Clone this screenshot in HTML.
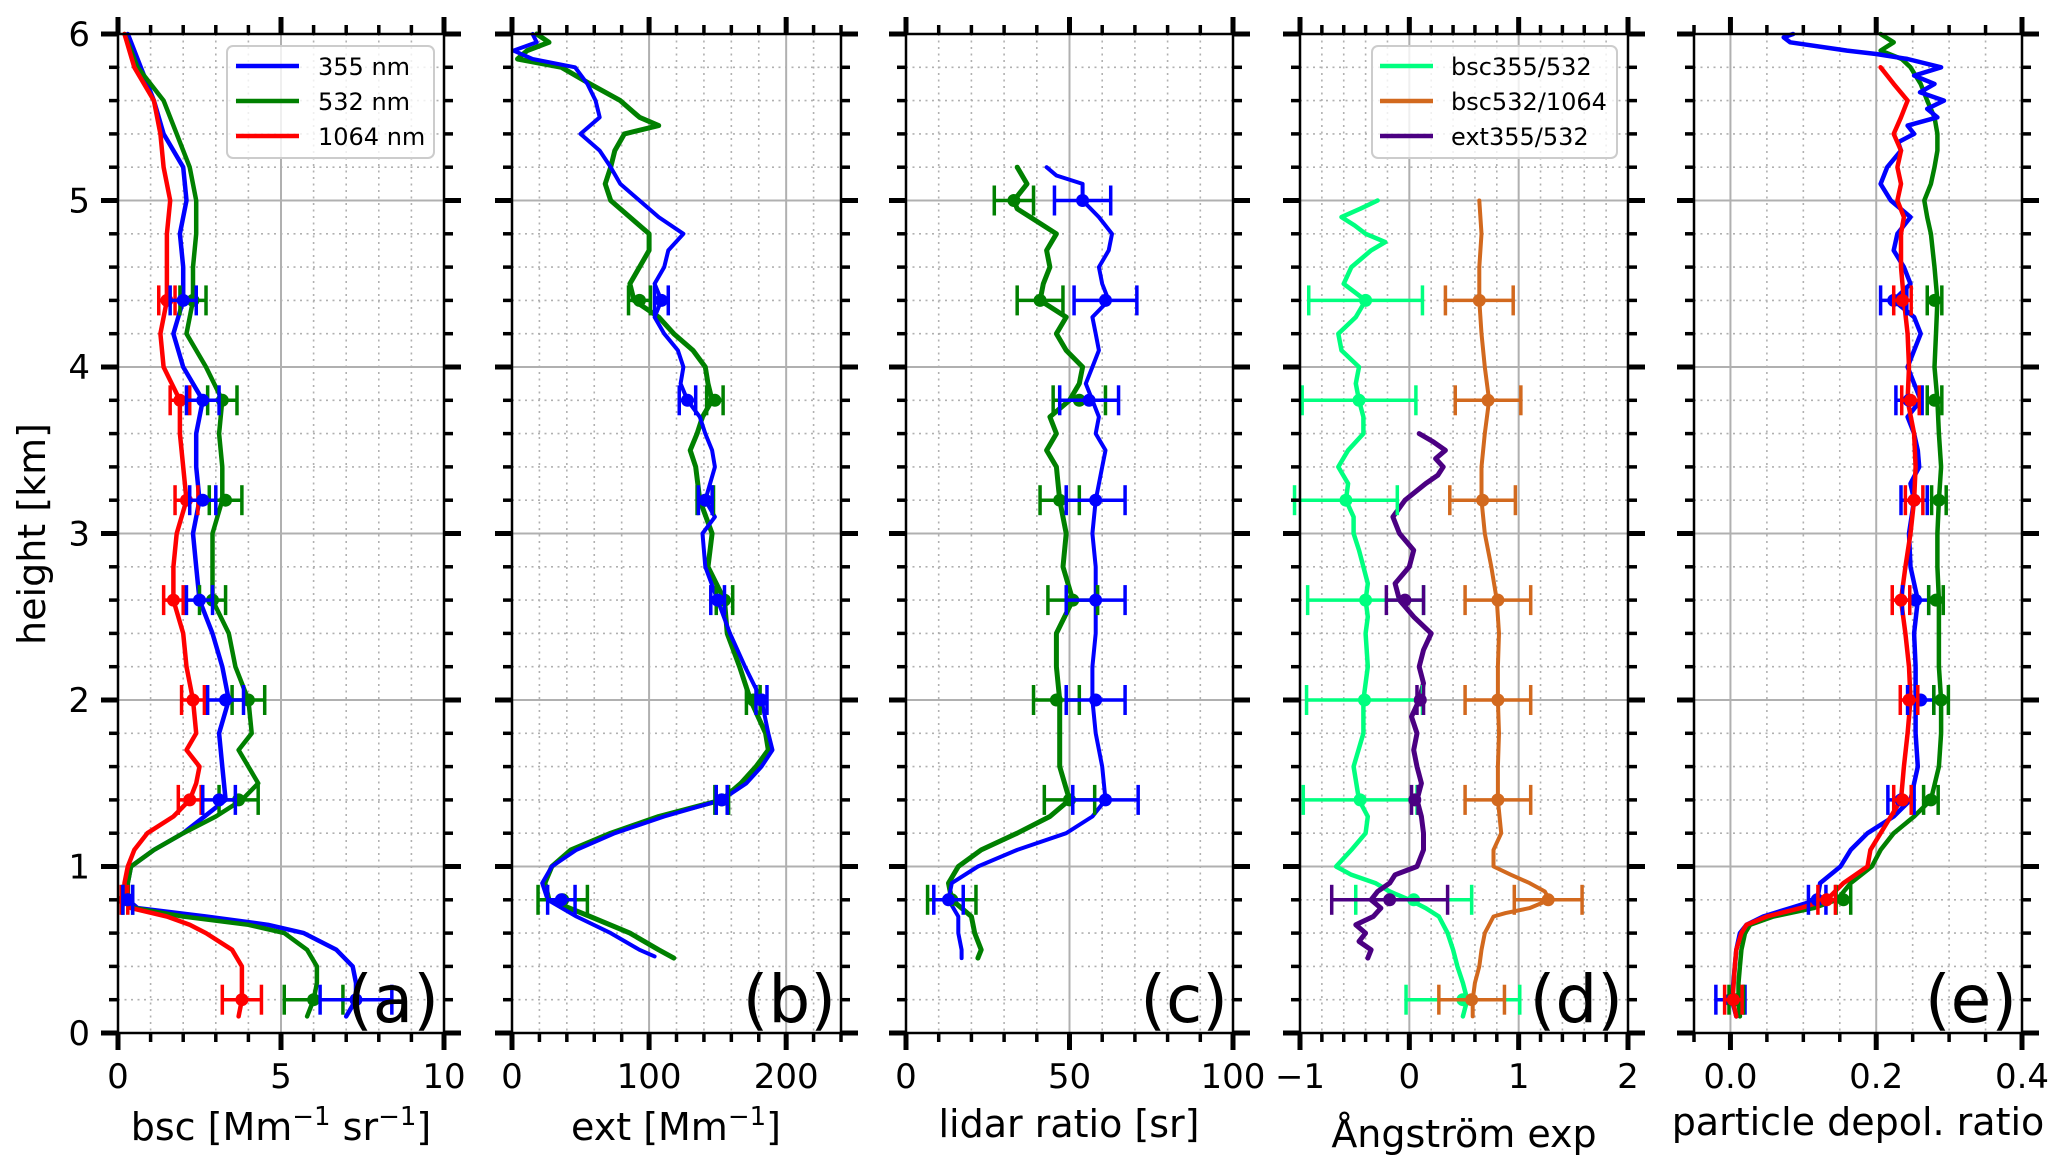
<!DOCTYPE html>
<html><head><meta charset="utf-8"><title>Lidar profiles</title>
<style>
html,body{margin:0;padding:0;background:#fff;}
svg{display:block;font-family:"DejaVu Sans","Liberation Sans",sans-serif;}
</style></head>
<body>
<svg id="chart" xmlns="http://www.w3.org/2000/svg" width="2067" height="1172" viewBox="0 0 2067 1172"></svg>
<script>
// ---------- DATA ----------
// panel (a) backscatter [Mm-1 sr-1]
const aBlueH = [6,5.8,5.6,5.4,5.2,5.0,4.8,4.6,4.4,4.2,4.0,3.8,3.6,3.4,3.2,3.0,2.8,2.6,2.4,2.2,2.0,1.8,1.6,1.4,1.2,1.1,1.0,0.9,0.8,0.75,0.7,0.65,0.6,0.5,0.4,0.3,0.2,0.1];
const aBlueV = [0.3,0.7,1.1,1.4,2.0,2.1,1.9,2.0,2.0,1.7,2.0,2.6,2.4,2.4,2.5,2.3,2.4,2.5,2.9,3.2,3.4,3.1,3.2,3.3,2.0,1.1,0.4,0.3,0.3,0.6,2.7,4.6,5.7,6.7,7.2,7.3,7.3,7.0];
const aGRH = [6,5.8,5.6,5.4,5.2,5.0,4.8,4.6,4.4,4.2,4.0,3.8,3.6,3.4,3.2,3.0,2.8,2.6,2.4,2.2,2.0,1.8,1.7,1.6,1.5,1.4,1.3,1.2,1.1,1.0,0.9,0.8,0.75,0.7,0.65,0.6,0.5,0.4,0.3,0.2,0.1];
const aGreenV = [0.2,0.6,1.4,1.8,2.2,2.4,2.4,2.3,2.3,2.1,2.7,3.2,3.1,3.2,3.2,2.9,2.9,2.9,3.4,3.6,4.0,4.1,3.7,4.0,4.3,3.8,3.0,2.0,1.1,0.4,0.3,0.3,0.5,2.0,4.0,5.1,5.8,6.1,6.1,6.0,5.8];
const aRedV = [0.2,0.5,1.1,1.3,1.4,1.6,1.5,1.5,1.5,1.3,1.4,1.9,1.9,2.0,2.1,1.8,1.7,1.7,2.0,2.1,2.3,2.4,2.1,2.5,2.4,2.2,1.7,0.9,0.5,0.3,0.2,0.2,0.4,1.5,2.2,2.7,3.5,3.8,3.8,3.8,3.7];
const errH = [4.4,3.8,3.2,2.6,2.0,1.4,0.8,0.2];
const aBlueErrC = [2.0,2.6,2.6,2.5,3.3,3.1,0.3,7.3];
const aBlueErrE = [0.4,0.5,0.4,0.4,0.55,0.5,0.15,1.1];
const aGreenErrC = [2.3,3.2,3.3,2.9,4.0,3.7,0.3,6.0];
const aGreenErrE = [0.4,0.45,0.5,0.4,0.5,0.6,0.15,0.9];
const aRedErrC = [1.5,1.9,2.1,1.7,2.3,2.2,0.2,3.8];
const aRedErrE = [0.25,0.3,0.35,0.3,0.35,0.35,0.1,0.6];

// panel (b) extinction [Mm-1]
const bBlueH = [6,5.95,5.9,5.85,5.8,5.7,5.6,5.5,5.4,5.3,5.2,5.1,5.0,4.9,4.8,4.7,4.6,4.5,4.4,4.3,4.2,4.1,4.0,3.9,3.8,3.7,3.6,3.5,3.4,3.2,3.1,3.0,2.8,2.6,2.4,2.2,2.0,1.8,1.7,1.6,1.5,1.4,1.3,1.2,1.1,1.0,0.9,0.8,0.7,0.6,0.5,0.46];
const bBlueV = [15,18,1,15,46,55,61,64,50,64,72,79,93,107,125,114,111,104,109,104,111,121,125,123,128,137,141,146,148,141,148,139,141,150,159,170,182,187,190,182,171,153,111,75,47,29,22,26,47,72,93,104];
const bGreenH = [6,5.95,5.9,5.85,5.8,5.7,5.6,5.5,5.45,5.4,5.3,5.2,5.1,5.0,4.9,4.8,4.7,4.6,4.5,4.4,4.3,4.2,4.1,4.0,3.9,3.8,3.7,3.6,3.5,3.4,3.2,3.0,2.8,2.6,2.4,2.2,2.0,1.8,1.7,1.6,1.5,1.4,1.3,1.2,1.1,1.0,0.9,0.8,0.7,0.6,0.5,0.45];
const bGreenV = [18,27,11,4,36,57,79,93,107,82,75,72,68,72,86,100,100,93,86,89,107,118,132,141,143,146,139,135,130,134,137,146,143,155,157,166,174,185,187,178,167,153,107,72,43,29,24,27,57,86,107,118];
const bErrH = [4.4,3.8,3.2,2.6,2.0,1.4,0.8];
const bBlueErrC = [109,128,141,150,182,153,36];
const bBlueErrE = [5,6,5,5,4,4,10];
const bGreenErrC = [93,148,141,155,176,153,37];
const bGreenErrE = [8,6,6,6,5,5,18];

// panel (c) lidar ratio [sr]
const cBlueH = [5.2,5.15,5.1,5.0,4.9,4.8,4.7,4.6,4.5,4.4,4.3,4.2,4.1,4.0,3.9,3.8,3.7,3.6,3.5,3.4,3.2,3.0,2.8,2.6,2.4,2.2,2.0,1.8,1.6,1.4,1.3,1.2,1.1,1.0,0.9,0.8,0.7,0.6,0.5,0.45];
const cBlueV = [43,46,54,54,59,63,62,59,60,62,57,58,59,57,55,57,59,58,61,60,58,57,58,58,58,57,57,58,60,61,57,49,34,22,14,13,16,16,17,17];
const cGreenH = [5.2,5.1,5.0,4.95,4.9,4.8,4.7,4.6,4.5,4.4,4.3,4.2,4.1,4.0,3.9,3.8,3.7,3.6,3.5,3.4,3.2,3.0,2.8,2.6,2.4,2.2,2.0,1.8,1.6,1.4,1.3,1.2,1.1,1.0,0.9,0.8,0.7,0.6,0.5,0.45];
const cGreenV = [34,37,33,34,38,46,43,44,42,41,49,46,49,54,53,50,44,46,43,46,47,49,48,51,46,46,47,47,47,50,44,34,23,16,13,14,20,21,23,22];
const cErrH = [5.0,4.4,3.8,3.2,2.6,2.0,1.4,0.8];
const cBlueErrC = [54,61,56,58,58,58,61,13];
const cBlueErrE = [8.6,9.6,9,9,9,9,10,4.5];
const cGreenErrC = [33,41,53,47,51,46,50,14];
const cGreenErrE = [6,7,8,6,7.6,7,7.7,7.4];

// panel (d) Angstrom exponents
const dBscUvH = [5.0,4.95,4.9,4.85,4.8,4.75,4.7,4.6,4.5,4.4,4.3,4.2,4.1,4.0,3.9,3.8,3.7,3.6,3.5,3.4,3.3,3.2,3.1,3.0,2.9,2.8,2.7,2.6,2.5,2.4,2.2,2.0,1.8,1.6,1.4,1.3,1.2,1.1,1.0,0.95,0.9,0.85,0.8,0.75,0.7,0.6,0.5,0.4,0.3,0.2,0.1];
const dBscUvV = [-0.29,-0.45,-0.62,-0.5,-0.40,-0.22,-0.35,-0.53,-0.60,-0.40,-0.49,-0.65,-0.62,-0.46,-0.49,-0.46,-0.42,-0.42,-0.56,-0.65,-0.56,-0.58,-0.51,-0.51,-0.46,-0.42,-0.38,-0.40,-0.38,-0.40,-0.38,-0.42,-0.42,-0.51,-0.46,-0.38,-0.40,-0.53,-0.67,-0.53,-0.31,-0.18,0.0,0.15,0.27,0.35,0.40,0.44,0.49,0.53,0.49];
const dBscIrH = [5.0,4.8,4.6,4.4,4.2,4.0,3.8,3.6,3.4,3.2,3.0,2.8,2.6,2.4,2.2,2.0,1.8,1.6,1.4,1.2,1.1,1.0,0.95,0.9,0.85,0.8,0.75,0.72,0.7,0.6,0.5,0.4,0.3,0.2,0.1];
const dBscIrV = [0.64,0.66,0.64,0.64,0.66,0.69,0.73,0.69,0.66,0.66,0.69,0.75,0.80,0.82,0.81,0.81,0.82,0.81,0.81,0.84,0.77,0.77,0.93,1.1,1.24,1.28,1.1,0.88,0.77,0.69,0.66,0.64,0.60,0.58,0.58];
const dExtH = [3.6,3.55,3.5,3.45,3.4,3.35,3.3,3.2,3.1,3.0,2.9,2.8,2.7,2.6,2.5,2.4,2.3,2.2,2.1,2.0,1.9,1.8,1.7,1.6,1.5,1.4,1.3,1.2,1.1,1.0,0.95,0.9,0.85,0.8,0.75,0.7,0.65,0.6,0.55,0.5,0.45];
const dExtV = [0.09,0.22,0.33,0.24,0.31,0.26,0.15,-0.04,-0.15,-0.09,0.04,0,-0.13,-0.09,0.04,0.2,0.13,0.09,0.13,0.09,0.02,0.07,0.04,0.07,0.11,0.07,0.11,0.13,0.13,0.07,-0.13,-0.18,-0.29,-0.35,-0.26,-0.33,-0.49,-0.40,-0.46,-0.35,-0.38];
const dBscUvErrC = [-0.40,-0.46,-0.58,-0.40,-0.41,-0.45,0.04,0.49];
const dBscUvErrE = [0.52,0.52,0.47,0.53,0.53,0.52,0.53,0.52];
const dBscIrErrC = [0.64,0.72,0.67,0.81,0.81,0.81,1.27,0.57];
const dBscIrErrE = [0.31,0.3,0.3,0.3,0.3,0.3,0.31,0.3];
const dExtErrH = [2.6,2.0,1.4,0.8];
const dExtErrC = [-0.04,0.1,0.05,-0.18];
const dExtErrE = [0.17,0.03,0.03,0.53];

// panel (e) particle depolarization ratio
const eBlueH = [6.0,5.98,5.95,5.9,5.88,5.85,5.8,5.75,5.7,5.65,5.6,5.55,5.5,5.45,5.4,5.35,5.3,5.2,5.1,5.0,4.9,4.8,4.7,4.6,4.5,4.4,4.3,4.2,4.1,4.0,3.8,3.7,3.6,3.5,3.4,3.3,3.2,3.0,2.8,2.6,2.4,2.2,2.0,1.8,1.6,1.4,1.3,1.2,1.1,1.0,0.9,0.8,0.75,0.7,0.65,0.6,0.5,0.4,0.3,0.2,0.1];
const eBlueV = [0.086,0.073,0.082,0.16,0.20,0.243,0.289,0.252,0.28,0.26,0.293,0.27,0.284,0.243,0.252,0.23,0.234,0.215,0.206,0.22,0.247,0.229,0.224,0.238,0.247,0.224,0.252,0.261,0.252,0.243,0.261,0.243,0.252,0.257,0.259,0.247,0.252,0.245,0.247,0.257,0.252,0.254,0.254,0.254,0.257,0.247,0.224,0.188,0.165,0.151,0.123,0.119,0.082,0.045,0.022,0.013,0.008,0.006,0.004,0.002,0.008];
const eGreenH = [6.0,5.95,5.9,5.85,5.8,5.7,5.6,5.5,5.4,5.3,5.2,5.1,5.0,4.9,4.8,4.6,4.4,4.2,4.0,3.8,3.6,3.4,3.2,3.0,2.8,2.6,2.4,2.2,2.0,1.8,1.6,1.4,1.3,1.2,1.1,1.0,0.9,0.8,0.75,0.7,0.65,0.6,0.5,0.4,0.3,0.2,0.1];
const eGreenV = [0.206,0.224,0.206,0.235,0.247,0.261,0.270,0.28,0.284,0.284,0.28,0.275,0.266,0.270,0.275,0.28,0.284,0.282,0.28,0.284,0.286,0.289,0.286,0.284,0.284,0.286,0.286,0.286,0.289,0.289,0.286,0.275,0.252,0.224,0.206,0.194,0.165,0.146,0.114,0.059,0.027,0.020,0.015,0.013,0.011,0.011,0.013];
const eRedH = [5.8,5.75,5.7,5.6,5.5,5.4,5.3,5.2,5.1,5.0,4.9,4.8,4.6,4.4,4.2,4.0,3.8,3.6,3.4,3.2,3.0,2.8,2.6,2.4,2.2,2.0,1.8,1.6,1.4,1.3,1.2,1.1,1.0,0.9,0.8,0.75,0.7,0.65,0.6,0.5,0.4,0.2,0.1];
const eRedV = [0.206,0.215,0.224,0.243,0.234,0.224,0.234,0.229,0.234,0.229,0.238,0.234,0.234,0.238,0.243,0.245,0.243,0.252,0.254,0.252,0.247,0.240,0.234,0.240,0.245,0.247,0.243,0.238,0.234,0.22,0.206,0.192,0.188,0.155,0.132,0.096,0.05,0.022,0.015,0.008,0.006,0.003,0.008];
const eBlueErrC = [0.224,0.245,0.252,0.254,0.261,0.234,0.119,0.0];
const eBlueErrE = [0.018,0.018,0.018,0.018,0.018,0.018,0.012,0.02];
const eGreenErrC = [0.28,0.28,0.286,0.282,0.289,0.275,0.155,0.008];
const eGreenErrE = [0.01,0.01,0.01,0.01,0.01,0.01,0.01,0.01];
const eRedErrC = [0.236,0.247,0.252,0.234,0.245,0.236,0.132,0.004];
const eRedErrE = [0.012,0.012,0.012,0.012,0.012,0.012,0.012,0.012];

const yTickLabels = ["0","1","2","3","4","5","6"];

// ---------- RENDER ----------
const NS = "http://www.w3.org/2000/svg";
const svg = document.getElementById("chart");
const Y0 = 1033, Y6 = 34;
function yS(h){ return Y0 + (Y6 - Y0) * h / 6; }
function mk(tag, attrs, parent){
  const e = document.createElementNS(NS, tag);
  for (const k in attrs) e.setAttribute(k, attrs[k]);
  (parent || svg).appendChild(e);
  return e;
}
const panels = [
  {id:"a", x0:118, x1:444, d0:0, d1:10, majors:[0,5,10], minorStep:1, minStart:0, labels:["0","5","10"]},
  {id:"b", x0:512, x1:841, d0:0, d1:240, majors:[0,100,200], minorStep:20, minStart:0, labels:["0","100","200"]},
  {id:"c", x0:906, x1:1233, d0:0, d1:100, majors:[0,50,100], minorStep:10, minStart:0, labels:["0","50","100"]},
  {id:"d", x0:1300, x1:1628, d0:-1, d1:2, majors:[-1,0,1,2], minorStep:0.2, minStart:-1, labels:["\u22121","0","1","2"]},
  {id:"e", x0:1694, x1:2022, d0:-0.05, d1:0.4, majors:[0,0.2,0.4], minorStep:0.05, minStart:-0.05, labels:["0.0","0.2","0.4"]}
];
panels.forEach(p => { p.xs = v => p.x0 + (v - p.d0) / (p.d1 - p.d0) * (p.x1 - p.x0); });

const defs = mk("defs", {});
panels.forEach(p => {
  const cp = mk("clipPath", {id:"clip-" + p.id}, defs);
  mk("rect", {x:p.x0, y:Y6 - 3, width:p.x1 - p.x0, height:Y0 - Y6 + 3}, cp);
});

function drawLine(p, H, V, color, w, name){
  let d = "";
  for (let i = 0; i < H.length; i++) d += (i ? "L" : "M") + p.xs(V[i]).toFixed(1) + "," + yS(H[i]).toFixed(1);
  const el = mk("path", {d:d, fill:"none", stroke:color, "stroke-width":w, "stroke-linejoin":"round", "stroke-linecap":"round", "clip-path":"url(#clip-" + p.id + ")"});
  
  
}
function drawErr(p, H, C, E, color, name){
  const g = mk("g", {stroke:color, "stroke-width":3.5, fill:color});
  
  
  for (let i = 0; i < H.length; i++){
    const y = yS(H[i]), xa = p.xs(C[i] - E[i]), xb = p.xs(C[i] + E[i]), xc = p.xs(C[i]);
    mk("line", {x1:xa, y1:y, x2:xb, y2:y}, g);
    mk("line", {x1:xa, y1:y - 15, x2:xa, y2:y + 15}, g);
    mk("line", {x1:xb, y1:y - 15, x2:xb, y2:y + 15}, g);
    mk("circle", {cx:xc, cy:y, r:6.5, stroke:"none"}, g);
  }
}

// grids
panels.forEach(p => {
  const g = mk("g", {});
  
  
  for (let v = p.minStart, k = 0; v <= p.d1 + 1e-9; k++, v = p.minStart + k * p.minorStep){
    const isMaj = p.majors.some(m => Math.abs(m - v) < 1e-9);
    const x = p.xs(v);
    if (isMaj) mk("line", {x1:x, y1:Y6, x2:x, y2:Y0, stroke:"#b0b0b0", "stroke-width":2}, g);
    else mk("line", {x1:x, y1:Y6, x2:x, y2:Y0, stroke:"#b0b0b0", "stroke-width":1.6, "stroke-dasharray":"2,4.5"}, g);
  }
  for (let k = 0; k <= 30; k++){
    const y = yS(k * 0.2);
    if (k % 5 === 0) mk("line", {x1:p.x0, y1:y, x2:p.x1, y2:y, stroke:"#b0b0b0", "stroke-width":2}, g);
    else mk("line", {x1:p.x0, y1:y, x2:p.x1, y2:y, stroke:"#b0b0b0", "stroke-width":1.6, "stroke-dasharray":"2,4.5"}, g);
  }
});

// series
const [A,B,C,D,E] = panels;
drawLine(A, aBlueH, aBlueV, "#0000ff", 4.5, "bsc-355-line");
drawLine(A, aGRH, aGreenV, "#008000", 4.5, "bsc-532-line");
drawLine(A, aGRH, aRedV, "#ff0000", 4.5, "bsc-1064-line");
drawErr(A, errH, aRedErrC, aRedErrE, "#ff0000", "bsc-1064-errorbars");
drawErr(A, errH, aGreenErrC, aGreenErrE, "#008000", "bsc-532-errorbars");
drawErr(A, errH, aBlueErrC, aBlueErrE, "#0000ff", "bsc-355-errorbars");

drawLine(B, bGreenH, bGreenV, "#008000", 5, "ext-532-line");
drawLine(B, bBlueH, bBlueV, "#0000ff", 4, "ext-355-line");
drawErr(B, bErrH, bGreenErrC, bGreenErrE, "#008000", "ext-532-errorbars");
drawErr(B, bErrH, bBlueErrC, bBlueErrE, "#0000ff", "ext-355-errorbars");

drawLine(C, cGreenH, cGreenV, "#008000", 5, "lr-532-line");
drawLine(C, cBlueH, cBlueV, "#0000ff", 4, "lr-355-line");
drawErr(C, cErrH, cGreenErrC, cGreenErrE, "#008000", "lr-532-errorbars");
drawErr(C, cErrH, cBlueErrC, cBlueErrE, "#0000ff", "lr-355-errorbars");

drawLine(D, dBscUvH, dBscUvV, "#00ff7f", 4.5, "ae-bsc355-532-line");
drawLine(D, dBscIrH, dBscIrV, "#d2691e", 4, "ae-bsc532-1064-line");
drawLine(D, dExtH, dExtV, "#4b0082", 5, "ae-ext355-532-line");
drawErr(D, errH, dBscUvErrC, dBscUvErrE, "#00ff7f", "ae-bsc355-532-errorbars");
drawErr(D, errH, dBscIrErrC, dBscIrErrE, "#d2691e", "ae-bsc532-1064-errorbars");
drawErr(D, dExtErrH, dExtErrC, dExtErrE, "#4b0082", "ae-ext355-532-errorbars");

drawLine(E, eGreenH, eGreenV, "#008000", 4.5, "pdr-532-line");
drawLine(E, eBlueH, eBlueV, "#0000ff", 4.5, "pdr-355-line");
drawLine(E, eRedH, eRedV, "#ff0000", 4.5, "pdr-1064-line");
drawErr(E, errH, eBlueErrC, eBlueErrE, "#0000ff", "pdr-355-errorbars");
drawErr(E, errH, eGreenErrC, eGreenErrE, "#008000", "pdr-532-errorbars");
drawErr(E, errH, eRedErrC, eRedErrE, "#ff0000", "pdr-1064-errorbars");

// spines & ticks
panels.forEach(p => {
  const g = mk("g", {stroke:"#000"});
  
  
  mk("rect", {x:p.x0, y:Y6, width:p.x1 - p.x0, height:Y0 - Y6, fill:"none", "stroke-width":2.5}, g);
  for (let v = p.minStart, k = 0; v <= p.d1 + 1e-9; k++, v = p.minStart + k * p.minorStep){
    const isMaj = p.majors.some(m => Math.abs(m - v) < 1e-9);
    const x = p.xs(v), L = isMaj ? 17 : 9, w = isMaj ? 5 : 3.5;
    mk("line", {x1:x, y1:Y0, x2:x, y2:Y0 + L, "stroke-width":w}, g);
    mk("line", {x1:x, y1:Y6, x2:x, y2:Y6 - L, "stroke-width":w}, g);
  }
  for (let k = 0; k <= 30; k++){
    const y = yS(k * 0.2), isMaj = k % 5 === 0, L = isMaj ? 17 : 9, w = isMaj ? 5 : 3.5;
    mk("line", {x1:p.x0, y1:y, x2:p.x0 - L, y2:y, "stroke-width":w}, g);
    mk("line", {x1:p.x1, y1:y, x2:p.x1 + L, y2:y, "stroke-width":w}, g);
  }
  const tl = mk("g", {"font-size":34, "text-anchor":"middle", fill:"#000"});
  
  
  p.majors.forEach((m, i) => { const t = mk("text", {x:p.xs(m), y:1088}, tl); t.textContent = p.labels[i]; });
  const pl = mk("text", {x:p.x1 - 5, y:1022, "font-size":66, "text-anchor":"end", fill:"#000"});
  pl.textContent = "(" + p.id + ")";
  
  
});

// y tick labels
const yl = mk("g", {"font-size":34, "text-anchor":"end", fill:"#000"});


yTickLabels.forEach((s, i) => { const t = mk("text", {x:90, y:yS(i) + 12}, yl); t.textContent = s; });
</script>
<svg style="position:absolute;left:0;top:0" width="2067" height="1172" viewBox="0 0 2067 1172" font-family="DejaVu Sans, Liberation Sans, sans-serif">
  <text transform="translate(45,534) rotate(-90)" text-anchor="middle" font-size="38">height [km]</text>
  <text x="281" y="1140" text-anchor="middle" font-size="38">bsc [Mm<tspan dy="-15" font-size="26">−1</tspan><tspan dy="15"> sr</tspan><tspan dy="-15" font-size="26">−1</tspan><tspan dy="15">]</tspan></text>
  <text x="676" y="1140" text-anchor="middle" font-size="38">ext [Mm<tspan dy="-15" font-size="26">−1</tspan><tspan dy="15">]</tspan></text>
  <text x="1069" y="1137" text-anchor="middle" font-size="38">lidar ratio [sr]</text>
  <text x="1464" y="1147" text-anchor="middle" font-size="38">Ångström exp</text>
  <text x="1858" y="1135" text-anchor="middle" font-size="38">particle depol. ratio</text>
  <g>
    <rect x="227" y="46" width="207" height="112" rx="6" fill="#fff" fill-opacity="0.8" stroke="#cccccc" stroke-width="2"/>
    <line x1="236" y1="66" x2="299" y2="66" stroke="#0000ff" stroke-width="4.5"/>
    <text x="318" y="75" font-size="24">355 nm</text>
    <line x1="236" y1="101" x2="299" y2="101" stroke="#008000" stroke-width="4.5"/>
    <text x="318" y="110" font-size="24">532 nm</text>
    <line x1="236" y1="136" x2="299" y2="136" stroke="#ff0000" stroke-width="4.5"/>
    <text x="318" y="145" font-size="24">1064 nm</text>
  </g>
  <g>
    <rect x="1372" y="46" width="245" height="112" rx="6" fill="#fff" fill-opacity="0.8" stroke="#cccccc" stroke-width="2"/>
    <line x1="1380" y1="66" x2="1433" y2="66" stroke="#00ff7f" stroke-width="4.5"/>
    <text x="1451" y="75" font-size="24">bsc355/532</text>
    <line x1="1380" y1="101" x2="1433" y2="101" stroke="#d2691e" stroke-width="4.5"/>
    <text x="1451" y="110" font-size="24">bsc532/1064</text>
    <line x1="1380" y1="136" x2="1433" y2="136" stroke="#4b0082" stroke-width="4.5"/>
    <text x="1451" y="145" font-size="24">ext355/532</text>
  </g>
</svg>
</body></html>
